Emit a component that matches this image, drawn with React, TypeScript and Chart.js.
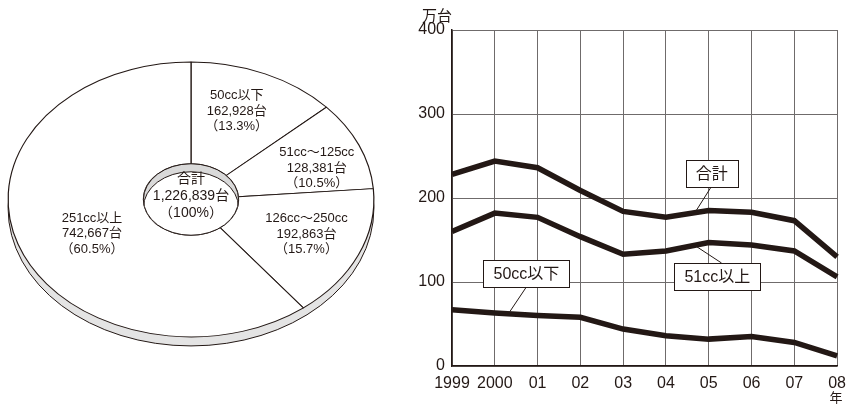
import React, { useEffect, useRef } from "react";
import { Chart, registerables } from "chart.js";

Chart.register(...registerables);

// ---- 2008 registrations by displacement class ----
const SHARE_LABELS = ["50cc以下", "51cc〜125cc", "126cc〜250cc", "251cc以上"];
const SHARE_UNITS = [162928, 128381, 192863, 742667];
const SHARE_PCT = ["13.3", "10.5", "15.7", "60.5"];
const TOTAL_UNITS = 1226839;
const TOTAL_PCT = "100";

// ---- yearly trend, 10,000 units ----
const YEARS = ["1999", "2000", "01", "02", "03", "04", "05", "06", "07", "08"];
const TOTAL = [228, 244, 236, 209, 184, 177, 185, 183, 173, 130];
const OVER_51CC = [160, 182, 177, 154, 133, 137, 147, 144, 137, 106];
const UNDER_50CC = [67, 63, 60, 58, 44, 36, 32, 35, 28, 12];
const Y_TICKS = [0, 100, 200, 300, 400];

const INK = "#231815";
const GRID = "#6f6b6b";
const FONT_FAMILY = '"Liberation Sans", Arial, "Noto Sans CJK JP", sans-serif';

// pie drawn as a tilted disc
const SQUASH = 0.7514; // vertical scale of the disc face
const DEPTH = 9; // visible rim thickness
const WELL = 8; // depth of the centre well
// label nudges (px) from each slice centroid
const LABEL_NUDGE: [number, number][] = [
  [-1, -9],
  [20, 3],
  [10, 0],
  [10, 6],
];

// callouts on the trend chart: box centre, leader start and leader end in data units
const CALLOUTS = [
  { text: "合計", box: [6.07, 228.6], from: [6.05, 212.6], to: [5.67, 182] },
  { text: "51cc以上", box: [6.2, 106.3], from: [6.3, 122.6], to: [5.72, 142] },
  { text: "50cc以下", box: [1.74, 109.9], from: [1.737, 94], to: [1.35, 64.6] },
];

const fmt = (n: number) => n.toLocaleString("en-US");

const discPlugin = {
  id: "disc",
  beforeDatasetsDraw(chart: any) {
    const arc = chart.getDatasetMeta(0).data[0];
    if (!arc) return;
    const { x, y, outerRadius } = arc;
    const ctx = chart.ctx as CanvasRenderingContext2D;
    // rim under the face
    ctx.save();
    ctx.beginPath();
    ctx.ellipse(x, y + DEPTH, outerRadius, outerRadius * SQUASH, 0, 0, Math.PI * 2);
    ctx.fillStyle = "#e4e4e4";
    ctx.fill();
    ctx.lineWidth = 1;
    ctx.strokeStyle = INK;
    ctx.stroke();
    ctx.restore();
    // squash the slices into an ellipse
    ctx.save();
    ctx.translate(x, y);
    ctx.scale(1, SQUASH);
    ctx.translate(-x, -y);
  },
  afterDatasetsDraw(chart: any) {
    const ctx = chart.ctx as CanvasRenderingContext2D;
    ctx.restore();
    const arc = chart.getDatasetMeta(0).data[0];
    if (!arc) return;
    const { x, y, innerRadius } = arc;
    const ry = innerRadius * SQUASH;
    // centre well
    ctx.save();
    ctx.beginPath();
    ctx.ellipse(x, y, innerRadius, ry, 0, 0, Math.PI * 2);
    ctx.clip();
    ctx.fillStyle = "#d9d9d9";
    ctx.fillRect(x - innerRadius - 2, y - ry - 2, innerRadius * 2 + 4, ry * 2 + 4);
    ctx.beginPath();
    ctx.ellipse(x, y + WELL, innerRadius, ry, 0, 0, Math.PI * 2);
    ctx.fillStyle = "#ffffff";
    ctx.fill();
    ctx.lineWidth = 1;
    ctx.strokeStyle = INK;
    ctx.stroke();
    ctx.restore();
    ctx.save();
    ctx.beginPath();
    ctx.ellipse(x, y, innerRadius, ry, 0, 0, Math.PI * 2);
    ctx.lineWidth = 1;
    ctx.strokeStyle = INK;
    ctx.stroke();
    ctx.restore();
  },
  afterDraw(chart: any) {
    const ctx = chart.ctx as CanvasRenderingContext2D;
    const arcs = chart.getDatasetMeta(0).data;
    if (!arcs.length) return;
    const cx = arcs[0].x;
    const cy = arcs[0].y;
    ctx.save();
    ctx.fillStyle = INK;
    ctx.textAlign = "center";
    ctx.textBaseline = "middle";
    ctx.font = `13px ${FONT_FAMILY}`;
    arcs.forEach((arc: any, i: number) => {
      const p = arc.getCenterPoint();
      const px = p.x + LABEL_NUDGE[i][0];
      const py = cy + (p.y - cy) * SQUASH + LABEL_NUDGE[i][1];
      const lines = [SHARE_LABELS[i], `${fmt(SHARE_UNITS[i])}台`, `（${SHARE_PCT[i]}%）`];
      lines.forEach((t, k) => ctx.fillText(t, px, py + (k - 1) * 15.5));
    });
    ctx.font = `14px ${FONT_FAMILY}`;
    const centre = ["合計", `${fmt(TOTAL_UNITS)}台`, `（${TOTAL_PCT}%）`];
    centre.forEach((t, k) => ctx.fillText(t, cx, cy - 3.5 + (k - 1) * 17));
    ctx.restore();
  },
};

const calloutPlugin = {
  id: "callouts",
  afterDatasetsDraw(chart: any) {
    const ctx = chart.ctx as CanvasRenderingContext2D;
    const xs = chart.scales.x;
    const ys = chart.scales.y;
    ctx.save();
    ctx.font = `16px ${FONT_FAMILY}`;
    ctx.textAlign = "center";
    ctx.textBaseline = "middle";
    CALLOUTS.forEach((c) => {
      const bx = xs.getPixelForValue(c.box[0]);
      const by = ys.getPixelForValue(c.box[1]);
      ctx.beginPath();
      ctx.moveTo(xs.getPixelForValue(c.from[0]), ys.getPixelForValue(c.from[1]));
      ctx.lineTo(xs.getPixelForValue(c.to[0]), ys.getPixelForValue(c.to[1]));
      ctx.lineWidth = 1;
      ctx.strokeStyle = INK;
      ctx.stroke();
      const w = Math.round(ctx.measureText(c.text).width + 20);
      const h = 27;
      const left = Math.round(bx - w / 2) + 0.5;
      const top = Math.round(by - h / 2) + 0.5;
      ctx.fillStyle = "#ffffff";
      ctx.fillRect(left, top, w, h);
      ctx.strokeRect(left, top, w, h);
      ctx.fillStyle = INK;
      ctx.fillText(c.text, bx, by + 1);
    });
    ctx.restore();
  },
  afterDraw(chart: any) {
    const ctx = chart.ctx as CanvasRenderingContext2D;
    const { left, top, right, bottom } = chart.chartArea;
    ctx.save();
    ctx.fillStyle = INK;
    ctx.textAlign = "center";
    ctx.textBaseline = "middle";
    ctx.font = `15px ${FONT_FAMILY}`;
    ctx.fillText("万台", left - 15, top - 13);
    ctx.font = `13px ${FONT_FAMILY}`;
    ctx.fillText("年", right - 1, bottom + 32);
    ctx.restore();
  },
};

function ShareDisc() {
  const ref = useRef<HTMLCanvasElement>(null);
  useEffect(() => {
    if (!ref.current) return;
    const chart = new Chart(ref.current, {
      type: "doughnut",
      data: {
        labels: SHARE_LABELS,
        datasets: [
          {
            data: SHARE_UNITS,
            backgroundColor: "#ffffff",
            borderColor: INK,
            borderWidth: 1.2,
            offset: 0,
            hoverOffset: 0,
          },
        ],
      },
      options: {
        animation: false,
        responsive: true,
        maintainAspectRatio: false,
        cutout: "26%",
        events: [],
        layout: { padding: { left: 7.5, right: 25.5, top: 16, bottom: 23 } },
        plugins: { legend: { display: false }, tooltip: { enabled: false } },
      },
      plugins: [discPlugin],
    });
    return () => chart.destroy();
  }, []);
  return (
    <div style={{ position: "absolute", left: 0, top: 0, width: 400, height: 406 }}>
      <canvas ref={ref} />
    </div>
  );
}

function TrendChart() {
  const ref = useRef<HTMLCanvasElement>(null);
  useEffect(() => {
    if (!ref.current) return;
    const line = (data: number[], label: string) => ({
      label,
      data,
      borderColor: INK,
      borderWidth: 5.5,
      pointRadius: 0,
      tension: 0,
      fill: false,
    });
    const tickFont = { family: FONT_FAMILY, size: 16 };
    const chart = new Chart(ref.current, {
      type: "line",
      data: {
        labels: YEARS,
        datasets: [line(TOTAL, "合計"), line(OVER_51CC, "51cc以上"), line(UNDER_50CC, "50cc以下")],
      },
      options: {
        animation: false,
        responsive: true,
        maintainAspectRatio: false,
        events: [],
        layout: { padding: { left: 0, right: 15, top: 30, bottom: 0 } },
        plugins: { legend: { display: false }, tooltip: { enabled: false } },
        scales: {
          x: {
            type: "category",
            offset: false,
            grid: { color: GRID, lineWidth: 1, drawTicks: false },
            border: { color: INK, width: 1.5 },
            ticks: { color: INK, font: tickFont, padding: 8, maxRotation: 0, autoSkip: false },
            afterFit: (s: any) => {
              s.height = 40;
            },
          },
          y: {
            min: 0,
            max: 400,
            grid: { color: GRID, lineWidth: 1, drawTicks: false },
            border: { color: INK, width: 1.5 },
            ticks: { color: INK, font: tickFont, padding: 7 },
            afterBuildTicks: (s: any) => {
              s.ticks = Y_TICKS.map((v) => ({ value: v }));
            },
            afterFit: (s: any) => {
              s.width = 42;
            },
          },
        },
      },
      plugins: [calloutPlugin],
    });
    return () => chart.destroy();
  }, []);
  return (
    <div style={{ position: "absolute", left: 410, top: 0, width: 444, height: 406 }}>
      <canvas ref={ref} />
    </div>
  );
}

export default function App() {
  return (
    <div
      style={{
        position: "fixed",
        left: 0,
        top: 0,
        width: 854,
        height: 406,
        background: "#ffffff",
        overflow: "hidden",
      }}
    >
      <ShareDisc />
      <TrendChart />
    </div>
  );
}
